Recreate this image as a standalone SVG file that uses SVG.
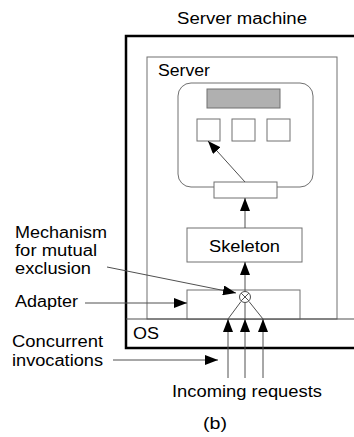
<svg xmlns="http://www.w3.org/2000/svg" width="354" height="437" viewBox="0 0 354 437">
  <style>
    text { font-family: "Liberation Sans", Arial, sans-serif; font-size: 16px; fill: #000; }
    .box { fill: #fff; stroke: #707070; stroke-width: 1; }
    .conn { fill: none; stroke: #505050; stroke-width: 1; }
  </style>
  <defs>
    <marker id="arrow" viewBox="0 0 13 10" refX="13" refY="5" markerWidth="13" markerHeight="10" markerUnits="userSpaceOnUse" orient="auto">
      <path d="M0,0 L13,5 L0,10 z" fill="#000"/>
    </marker>
  </defs>

  <text x="177" y="24" textLength="130" lengthAdjust="spacingAndGlyphs">Server machine</text>

  <g id="server-machine">
    <rect x="126" y="36" width="240" height="312" fill="#fff" stroke="#000" stroke-width="2.5"/>
  </g>

  <g id="server">
    <rect class="box" x="147" y="57" width="190" height="262"/>
    <text x="158" y="76" textLength="52" lengthAdjust="spacingAndGlyphs">Server</text>
  </g>

  <g id="object">
    <rect class="box" x="178" y="83" width="135" height="104" rx="13" ry="13"/>
    <rect x="207" y="89" width="73" height="19" fill="#b0b0b0" stroke="#707070" stroke-width="1"/>
    <rect class="box" x="197" y="119" width="23" height="22"/>
    <rect class="box" x="232" y="119" width="23" height="22"/>
    <rect class="box" x="267" y="119" width="23" height="22"/>
  </g>

  <g id="dispatcher">
    <rect class="box" x="214" y="182" width="63" height="16"/>
  </g>

  <g id="skeleton">
    <rect class="box" x="187" y="228" width="115" height="34"/>
    <text x="209" y="252" textLength="71" lengthAdjust="spacingAndGlyphs">Skeleton</text>
  </g>

  <g id="adapter">
    <rect class="box" x="187" y="290" width="113" height="29"/>
  </g>

  <g id="os">
    <line x1="126" y1="319" x2="354" y2="319" stroke="#505050" stroke-width="1.2"/>
    <text x="133" y="339" textLength="26" lengthAdjust="spacingAndGlyphs">OS</text>
  </g>

  <g id="mutex">
    <circle cx="245" cy="297" r="5.5" fill="#fff" stroke="#505050" stroke-width="1"/>
    <path d="M241.1,293.1 L248.9,300.9 M248.9,293.1 L241.1,300.9" stroke="#505050" stroke-width="1"/>
  </g>

  <g id="connectors">
    <line class="conn" x1="245" y1="182" x2="208" y2="141" marker-end="url(#arrow)"/>
    <line class="conn" x1="245" y1="228" x2="245" y2="198" marker-end="url(#arrow)"/>
    <line class="conn" x1="245" y1="291.5" x2="245" y2="262" marker-end="url(#arrow)"/>
    <line class="conn" x1="241" y1="301.5" x2="228" y2="319"/>
    <line class="conn" x1="249" y1="301.5" x2="263" y2="319"/>
    <line class="conn" x1="245" y1="302.5" x2="245" y2="319"/>
    <line class="conn" x1="228" y1="378" x2="228" y2="319" marker-end="url(#arrow)"/>
    <line class="conn" x1="245" y1="378" x2="245" y2="319" marker-end="url(#arrow)"/>
    <line class="conn" x1="263" y1="378" x2="263" y2="319" marker-end="url(#arrow)"/>
    <line class="conn" x1="107" y1="267" x2="236" y2="293" marker-end="url(#arrow)"/>
    <line class="conn" x1="85" y1="303" x2="187" y2="303" marker-end="url(#arrow)"/>
    <line class="conn" x1="113" y1="360" x2="218" y2="360" marker-end="url(#arrow)"/>
  </g>

  <g id="labels">
    <text x="15" y="238" textLength="92" lengthAdjust="spacingAndGlyphs">Mechanism</text>
    <text x="15" y="256" textLength="82" lengthAdjust="spacingAndGlyphs">for mutual</text>
    <text x="15" y="274" textLength="76" lengthAdjust="spacingAndGlyphs">exclusion</text>
    <text x="15" y="307" textLength="63" lengthAdjust="spacingAndGlyphs">Adapter</text>
    <text x="12" y="347" textLength="91" lengthAdjust="spacingAndGlyphs">Concurrent</text>
    <text x="12" y="366" textLength="91" lengthAdjust="spacingAndGlyphs">invocations</text>
    <text x="172" y="397" textLength="150" lengthAdjust="spacingAndGlyphs">Incoming requests</text>
    <text x="203" y="429" textLength="24" lengthAdjust="spacingAndGlyphs">(b)</text>
  </g>
</svg>
